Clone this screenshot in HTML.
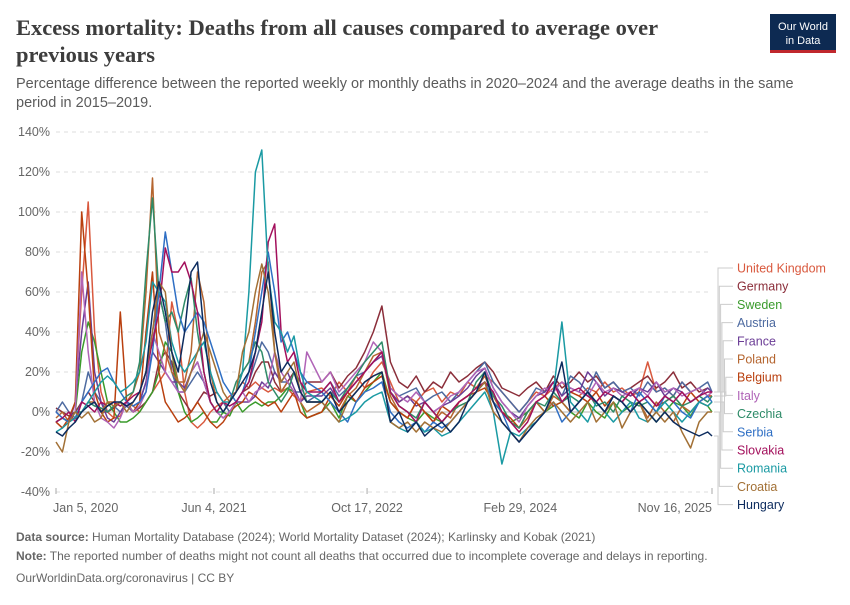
<!DOCTYPE html>
<html><head><meta charset="utf-8"><style>
body{margin:0;background:#fff;font-family:"Liberation Sans",sans-serif}
svg text{font-family:"Liberation Sans",sans-serif}
</style></head><body>
<svg id="chart" width="850" height="600" viewBox="0 0 850 600" xmlns="http://www.w3.org/2000/svg">
<text x="16" y="35" font-weight="bold" font-size="22.5" fill="#3d3d3d" style="font-family:'Liberation Serif',serif">Excess mortality: Deaths from all causes compared to average over</text>
<text x="16" y="62" font-weight="bold" font-size="22.5" fill="#3d3d3d" style="font-family:'Liberation Serif',serif">previous years</text>
<text x="16" y="88" font-size="14.5" fill="#5b5b5b">Percentage difference between the reported weekly or monthly deaths in 2020–2024 and the average deaths in the same</text>
<text x="16" y="107" font-size="14.5" fill="#5b5b5b">period in 2015–2019.</text>
<g>
<rect x="770" y="14" width="66" height="36" fill="#0d2a52"/>
<rect x="770" y="50" width="66" height="3" fill="#c0282d"/>
<text x="803" y="30" font-size="11" fill="#fff" text-anchor="middle">Our World</text>
<text x="803" y="44" font-size="11" fill="#fff" text-anchor="middle">in Data</text>
</g>
<g id="grid"></g>
<g id="xaxis"></g>
<g id="series"></g>
<g id="legend"></g>
<text x="16" y="541" font-size="12" fill="#666"><tspan font-weight="bold">Data source:</tspan> Human Mortality Database (2024); World Mortality Dataset (2024); Karlinsky and Kobak (2021)</text>
<text x="16" y="560" font-size="12" fill="#666"><tspan font-weight="bold">Note:</tspan> The reported number of deaths might not count all deaths that occurred due to incomplete coverage and delays in reporting.</text>
<text x="16" y="582" font-size="12" fill="#666">OurWorldinData.org/coronavirus | CC BY</text>
</svg>
<script>
const weeksEarly = [0,3,6,9,12,15,18,21,24,27,30,33,36,39,42,45,48,51,54,57,60,63,66,69,72,75,78,81,84,87,90,93,96,99,102,105,108,111,114,117];
const weeksLate = [124,128,132,136,140,144,148,152,156,160,164,168,172,176,180,184,188,192,196,200,204,208,212,216,220,224,228,232,236,240,244,248,252,256,260,264,268,272,276,280,284,288,292,296,300,304,306];
const weeks = weeksEarly.concat(weeksLate);
const yTicks = [-40,-20,0,20,40,60,80,100,120,140];
const xTickWeeks = [0,73.7,145.1,216.6,306];
const xTickLabels = ["Jan 5, 2020","Jun 4, 2021","Oct 17, 2022","Feb 29, 2024","Nov 16, 2025"];
const countries = ["United Kingdom","Germany","Sweden","Austria","France","Poland","Belgium","Italy","Czechia","Serbia","Slovakia","Romania","Croatia","Hungary"];
const colors = ["#d9593e","#8b2e3a","#3a9b2c","#4d6aa0","#6b3d96","#b5652f","#b9400f","#b064b7","#2e8b68","#2f6fc4","#a3105c","#1a9aa3","#a27035","#0c2b5e"];
const ukValues = [-5,-8,-5,5,60,105,40,10,0,-3,-2,5,3,0,5,10,15,20,55,40,10,-5,-8,-5,0,3,5,8,10,15,12,15,12,10,12,10,12,8,5,10,
 12,8,15,10,18,12,20,25,15,5,8,5,10,12,5,10,8,15,12,18,15,10,5,0,5,10,8,12,15,10,8,12,10,15,10,12,8,10,25,10,12,8,15,10,12,8,10];
const germanyValues = [2,0,-2,0,5,10,5,0,0,2,5,3,0,2,5,10,25,30,25,10,5,0,5,10,8,10,5,0,5,10,12,20,25,25,15,10,15,20,10,15,
 15,20,12,18,22,30,40,53,25,15,12,18,10,15,12,20,15,18,22,25,20,12,10,8,12,15,10,18,12,15,20,15,18,12,15,10,12,15,18,12,15,20,12,15,10,12,10];
const swedenValues = [-5,-3,-5,0,30,45,35,20,5,0,-5,-5,-3,0,5,10,20,35,30,10,0,-5,-3,0,-5,-5,0,-2,5,0,3,5,3,5,5,8,12,10,5,-3,
 0,5,-3,8,5,10,15,20,5,0,-3,-5,0,-3,-5,0,3,5,10,15,5,0,-5,-3,0,5,0,3,5,0,-3,5,0,-3,5,0,3,5,0,-5,0,5,3,-2,5,3,0];
const austriaValues = [0,5,0,-3,5,20,10,5,0,3,0,3,0,5,15,40,60,45,20,10,10,15,20,15,5,0,5,0,5,10,15,25,35,30,20,15,15,10,10,5,
 10,15,8,12,18,20,25,30,12,8,10,12,5,8,10,5,10,15,20,25,15,10,5,0,5,12,10,15,8,18,15,10,20,12,15,10,12,8,15,10,12,8,15,10,12,15,10];
const franceValues = [0,-3,-5,5,40,65,20,5,-3,-5,0,5,3,5,15,30,25,20,15,15,12,20,25,15,5,0,-3,0,5,5,5,8,15,12,20,15,20,12,5,8,
 8,12,5,10,15,20,25,28,10,5,8,3,5,0,3,5,8,12,18,22,12,5,0,-3,3,8,10,15,8,12,10,20,15,8,12,10,8,12,10,15,8,12,10,5,8,12,10];
const polandValues = [-3,0,-5,-3,0,5,5,0,5,5,3,5,10,20,60,117,40,30,20,15,15,30,70,55,20,5,0,5,10,20,25,45,70,75,30,10,15,10,5,0,
 5,10,0,8,12,20,28,30,8,0,-3,5,0,-5,0,-3,5,8,12,18,8,0,-5,-8,-3,5,0,8,5,0,5,10,5,0,8,5,0,5,-3,5,0,-5,3,0,5,3,5];
const belgiumValues = [-5,-8,-3,5,100,60,10,0,-5,-3,50,5,0,5,40,70,20,5,0,-5,-3,0,5,0,-5,-8,-5,0,3,5,10,8,5,3,5,0,5,10,0,-3,
 0,8,3,10,5,12,15,18,5,0,-3,5,0,-5,3,0,5,8,10,12,5,0,-3,-8,0,5,8,3,5,10,8,5,10,3,8,5,10,5,8,3,5,8,3,10,5,8,8];
const italyValues = [-5,-3,-5,0,70,30,5,-3,-5,-8,-3,5,0,3,10,40,30,20,15,10,10,20,25,15,5,0,-3,0,5,10,5,10,12,15,30,20,15,10,5,30,
 15,20,10,15,20,25,35,30,12,8,5,10,5,0,3,8,10,15,20,22,12,5,0,-5,3,8,12,10,15,12,10,8,15,10,12,8,10,12,8,15,10,12,8,10,12,8,10];
const czechiaValues = [-5,-3,-5,0,0,5,3,2,0,3,5,8,10,25,70,107,60,45,50,40,55,67,40,20,5,0,0,5,15,20,25,35,30,15,10,5,10,20,15,5,
 5,10,5,12,18,25,30,35,10,3,0,-3,5,0,-5,0,3,5,15,20,8,3,-5,-8,0,5,3,10,5,8,5,10,3,5,0,8,5,3,5,0,5,8,3,5,8,5,8];
const serbiaValues = [0,-3,-5,-3,5,10,15,20,22,15,10,5,3,5,10,30,60,90,70,50,40,45,50,45,35,25,15,10,5,10,20,40,60,80,60,35,40,30,20,15,
 10,5,0,-5,5,10,12,15,0,-5,-8,-5,-10,-5,-8,-5,0,5,10,15,5,0,-10,-15,-10,-5,0,5,-5,0,5,10,5,0,8,5,0,10,5,0,8,5,0,-3,5,8,5];
const slovakiaValues = [-5,-3,0,-5,5,3,0,5,3,5,3,5,8,10,20,35,50,82,70,70,75,65,50,20,5,0,5,3,5,10,15,30,45,85,94,40,25,30,15,10,
 10,15,5,10,15,20,25,30,10,3,0,-5,5,0,-5,0,5,8,12,15,10,0,-5,-10,-5,5,8,15,5,10,12,8,5,10,8,5,10,5,8,3,8,5,10,5,8,10,10];
const romaniaValues = [-10,-8,-5,-3,0,5,10,15,18,15,10,12,15,20,35,65,60,55,35,25,20,25,30,35,20,10,5,5,10,20,60,120,131,70,45,40,30,38,20,10,
 5,0,-5,-3,0,5,8,10,-5,-8,-10,-5,-10,-8,-12,-10,-5,0,5,10,0,-26,-10,-12,-8,-5,0,10,45,5,0,-5,5,0,-5,0,5,-3,-5,0,5,0,-5,0,5,3,5];
const croatiaValues = [-15,-20,-5,0,-3,0,-5,-3,5,3,5,0,5,10,20,40,65,60,30,15,10,20,30,40,30,20,10,5,10,30,40,60,74,60,30,15,20,25,10,5,
 5,0,-5,5,10,15,18,20,-5,-8,-5,-10,-5,-8,-10,-5,0,5,10,15,0,-5,-10,-15,-8,-3,0,5,0,-5,0,5,-5,0,5,-8,0,5,-5,0,-5,0,-10,-18,-5,0,0];
const hungaryValues = [-10,-12,-8,-5,0,3,5,0,3,5,5,3,5,10,20,50,65,50,30,20,40,70,75,40,15,5,0,5,10,15,20,30,50,70,40,20,25,20,10,5,
 5,10,0,5,10,15,18,20,-5,0,-10,-5,-12,-8,-5,-10,-5,5,10,20,5,-5,-10,-15,-10,-5,0,10,25,0,5,10,5,0,8,5,0,5,0,-5,0,-5,-8,-10,-12,-10,-12];
const seriesValues = [ukValues,germanyValues,swedenValues,austriaValues,franceValues,polandValues,belgiumValues,italyValues,czechiaValues,serbiaValues,slovakiaValues,romaniaValues,croatiaValues,hungaryValues];

const NS = "http://www.w3.org/2000/svg";
const X0 = 56, X1 = 712, W0 = 0, W1 = 306;
const Y0 = 412, PX_PER_PCT = 2;
function xScale(w){ return X0 + (w - W0) / (W1 - W0) * (X1 - X0); }
function yScale(v){ return Y0 - v * PX_PER_PCT; }
function mk(tag, attrs, parent){ const e = document.createElementNS(NS, tag); for (const k in attrs) e.setAttribute(k, attrs[k]); parent.appendChild(e); return e; }

const grid = document.getElementById('grid');
yTicks.forEach(t => {
  const y = yScale(t);
  const ln = mk('line', {x1: X0, x2: X1, y1: y, y2: y, stroke: t === 0 ? '#b5b5b5' : '#dedede', 'stroke-width': 1, 'stroke-dasharray': t === 0 ? '' : '4,4'}, grid);
  
  
  const tx = mk('text', {x: 50, y: y + 4, 'text-anchor': 'end', 'font-size': 12.5, fill: '#666'}, grid);
  tx.textContent = t + '%';
  
  
});
const xa = document.getElementById('xaxis');
xTickWeeks.forEach((w, i) => {
  const x = xScale(w);
  const tk = mk('line', {x1: x, x2: x, y1: 488, y2: 494, stroke: '#aaa'}, xa);
  
  
  const anchor = i === 0 ? 'start' : (i === xTickWeeks.length - 1 ? 'end' : 'middle');
  const tx = mk('text', {x: i === 0 ? x - 3 : x, y: 512, 'text-anchor': anchor, 'font-size': 12.5, fill: '#666'}, xa);
  tx.textContent = xTickLabels[i];
  
  
});

const sg = document.getElementById('series');
const endYs = [];
seriesValues.forEach((vals, si) => {
  const n = Math.min(vals.length, weeks.length);
  let d = '';
  for (let i = 0; i < n; i++) d += (i ? 'L' : 'M') + xScale(weeks[i]).toFixed(1) + ',' + yScale(vals[i]).toFixed(1);
  const p = mk('path', {d: d, fill: 'none', stroke: colors[si], 'stroke-width': 1.5, 'stroke-linejoin': 'round'}, sg);
  
  
  endYs.push(yScale(vals[n - 1]));
});

const lg = document.getElementById('legend');
countries.forEach((c, i) => {
  const ly = 268 + i * 18.2;
  const bx = 718 + (i < 7 ? i : 13 - i) * 1.3;
  const con = mk('path', {d: 'M714,' + endYs[i].toFixed(1) + 'H' + bx.toFixed(1) + 'V' + ly.toFixed(1) + 'H733', fill: 'none', stroke: '#ccc', 'stroke-width': 1}, lg);
  
  
  const t = mk('text', {x: 737, y: ly + 4.5, 'font-size': 12.5, fill: colors[i]}, lg);
  t.textContent = c;
  
  
});
</script>
</body></html>
